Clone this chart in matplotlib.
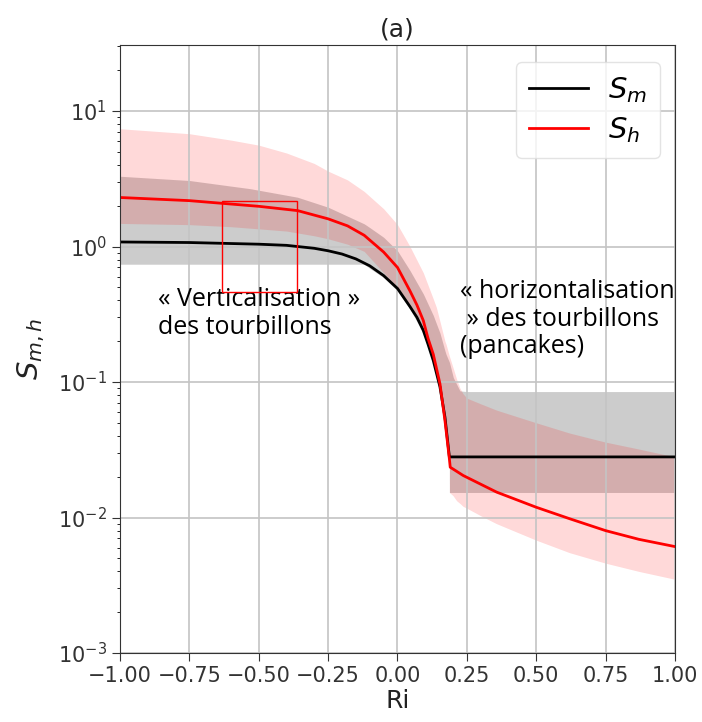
import matplotlib
matplotlib.use("Agg")
import matplotlib.pyplot as plt
import matplotlib.patches as patches

# === Données ===
# S_m (ligne noire)
ri_m = [-1.0, -0.75, -0.5, -0.4, -0.3, -0.25, -0.2, -0.15, -0.1, -0.05, 0.0, 0.045, 0.07,
        0.093, 0.11, 0.129, 0.153, 0.171, 0.187, 0.4, 0.7, 1.0]
s_m = [1.08, 1.07, 1.04, 1.02, 0.97, 0.93, 0.88, 0.81, 0.72, 0.61, 0.49, 0.36, 0.30,
       0.24, 0.19, 0.144, 0.092, 0.055, 0.028, 0.028, 0.028, 0.028]

# S_h (ligne rouge)
ri_h = [-1.0, -0.75, -0.5, -0.36, -0.25, -0.18, -0.12, -0.05, 0.0, 0.045, 0.07, 0.093, 0.11,
        0.129, 0.153, 0.171, 0.187, 0.19, 0.237, 0.357, 0.5, 0.62, 0.75, 0.87, 1.0]
s_h = [2.3, 2.18, 1.98, 1.84, 1.60, 1.42, 1.21, 0.91, 0.70, 0.47, 0.37, 0.284, 0.21,
       0.16, 0.097, 0.052, 0.027, 0.0235, 0.0204, 0.0154, 0.0119, 0.0098, 0.0080, 0.0069, 0.0061]

# bande grise (S_m)
ri_gm = [-1.0, -0.75, -0.53, -0.36, -0.25, -0.12, -0.1, -0.05, 0.0, 0.045, 0.093, 0.129, 0.14,
         0.153, 0.171, 0.175, 0.187, 0.1871, 0.201, 0.225, 0.25, 1.0]
gm_hi = [3.3, 3.07, 2.67, 2.31, 1.95, 1.47, 1.38, 1.17, 0.93, 0.665, 0.447, 0.31, 0.27,
         0.23, 0.17, 0.16, 0.14, 0.14, 0.108, 0.086, 0.085, 0.085]
gm_lo = [0.74, 0.74, 0.74, 0.74, 0.74, 0.74, 0.69, 0.59, 0.47, 0.345, 0.23, 0.138, 0.115,
         0.088, 0.052, 0.046, 0.027, 0.0153, 0.0153, 0.0153, 0.0153, 0.0153]

# bande rose (S_h)
ri_gh = [-1.0, -0.75, -0.6, -0.5, -0.4, -0.3, -0.25, -0.18, -0.12, -0.05, 0.0, 0.045, 0.093,
         0.129, 0.14, 0.153, 0.171, 0.175, 0.187, 0.1871, 0.2, 0.213, 0.225, 0.236, 0.25,
         0.3, 0.357, 0.5, 0.62, 0.75, 0.87, 1.0]
gh_hi = [7.4, 6.8, 6.1, 5.6, 4.9, 4.1, 3.6, 3.1, 2.55, 1.9, 1.45, 1.0, 0.64,
         0.41, 0.356, 0.28, 0.2, 0.19, 0.155, 0.155, 0.128, 0.105, 0.09, 0.082, 0.076,
         0.069, 0.062, 0.050, 0.042, 0.036, 0.032, 0.028]
gh_lo = [1.48, 1.45, 1.4, 1.35, 1.3, 1.2, 1.14, 1.04, 0.92, 0.64, 0.50, 0.36, 0.24,
         0.143, 0.12, 0.09, 0.05, 0.045, 0.026, 0.0153, 0.0145, 0.0133, 0.0127, 0.0121, 0.0117,
         0.0103, 0.0090, 0.0068, 0.0055, 0.0046, 0.0040, 0.0035]

x_ticks = [-1.0, -0.75, -0.5, -0.25, 0.0, 0.25, 0.5, 0.75, 1.0]

# === Figure ===
fig = plt.figure(figsize=(7.02, 7.22), dpi=100)
ax = fig.add_axes([120 / 702, 1 - 653 / 722, 555 / 702, 608 / 722])

ax.fill_between(ri_gm, gm_lo, gm_hi, color='k', alpha=0.2, linewidth=0)
ax.fill_between(ri_gh, gh_lo, gh_hi, color='red', alpha=0.15, linewidth=0)
ax.plot(ri_m, s_m, color='k', lw=2, label='$S_m$')
ax.plot(ri_h, s_h, color='red', lw=2, label='$S_h$')

ax.set_yscale('log')
ax.set_xlim(-1, 1)
ax.set_ylim(1e-3, 30.7)
ax.set_xticks(x_ticks)
ax.grid(True, which='major', color='#c4c4c4', lw=1.2)
ax.tick_params(labelsize=15, colors='#333333')
ax.tick_params(which='major', length=6)
for s in ax.spines.values():
    s.set_color('#333333')

ax.set_xlabel('Ri', fontsize=18, color='#222222', labelpad=2)
ax.set_ylabel('$S_{m,h}$', fontsize=21, color='#222222', labelpad=8)
ax.set_title('(a)', fontsize=18, color='#222222', pad=6)

leg = ax.legend(loc='upper right', bbox_to_anchor=(0.973, 0.972), borderaxespad=0,
                fontsize=21, handlelength=2.0, handletextpad=0.7, borderpad=0.45,
                labelspacing=0.35, frameon=True, fancybox=True)
leg.get_frame().set_edgecolor('#dddddd')

# === Annotations ===
ax.text(0.0685, 0.602, '« Verticalisation »\ndes tourbillons', fontsize=18,
        family='Open Sans', color='k', va='top', ha='left', linespacing=1.15,
        transform=ax.transAxes)
ax.text(0.6126, 0.6155, '« horizontalisation\n » des tourbillons\n(pancakes)', fontsize=18,
        family='Open Sans', color='k', va='top', ha='left', linespacing=1.15,
        transform=ax.transAxes, clip_on=False)

rect = patches.Rectangle((222 / 702, 1 - 292 / 722), 75 / 702, 91 / 722,
                         transform=fig.transFigure, fill=False, edgecolor='red', lw=1)
fig.add_artist(rect)

fig.savefig('out.png', dpi=100)
